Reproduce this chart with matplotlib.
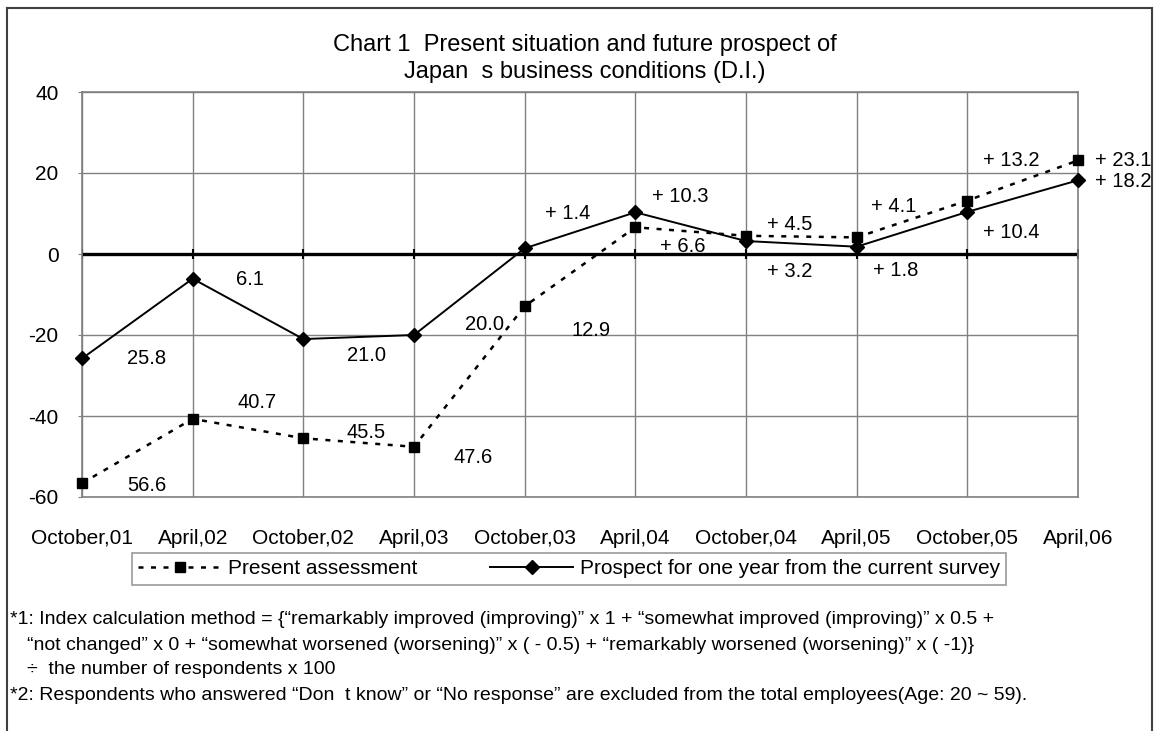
import numpy as np
import matplotlib
matplotlib.use("Agg")
import matplotlib.pyplot as plt
from matplotlib.lines import Line2D

plt.rcParams['font.family'] = ['Liberation Sans', 'DejaVu Sans']
plt.rcParams['axes.unicode_minus'] = False

periods = ["October,01", "April,02", "October,02", "April,03", "October,03",
           "April,04", "October,04", "April,05", "October,05", "April,06"]
present = [-56.6, -40.7, -45.5, -47.6, -12.9, 6.6, 4.5, 4.1, 13.2, 23.1]
prospect = [-25.8, -6.1, -21.0, -20.0, 1.4, 10.3, 3.2, 1.8, 10.4, 18.2]

# label offsets in pixels (dx, dy), placed by hand like the original
present_off = [(65, -2), (64, 16), (63, 6), (59, -11), (66, -24),
               (47, -19), (44, 11), (37, 31), (44, 40), (45, 0)]
prospect_off = [(65, 0), (57, -1), (63, -16), (71, 10), (43, 35),
                (45, 16), (44, -30), (39, -24), (44, -21), (45, -1)]


def fmt(v):
    return f"{abs(v):.1f}" if v < 0 else f"+ {v:.1f}"


W, H = 1157, 731
fig = plt.figure(figsize=(W / 100, H / 100), dpi=100)
ax = fig.add_axes([82 / W, 1 - 497 / H, (1078 - 82) / W, (497 - 92) / H])

x = np.arange(len(periods))

ax.set_xlim(0, len(periods) - 1)
ax.set_ylim(-60, 40)
ax.set_yticks(np.arange(-60, 41, 20))
ax.set_xticks(x)
ax.set_xticklabels(periods, fontsize=15)
ax.tick_params(axis='x', length=0, pad=23)
ax.tick_params(axis='y', length=3, color='#808080', labelsize=15, pad=14)
ax.grid(True, color='#808080', lw=1)
ax.set_axisbelow(True)
for s in ax.spines.values():
    s.set_color('#808080')
    s.set_linewidth(1.2)

# zero line with small tick marks at each category
ax.axhline(0, color='black', lw=2.4, zorder=2)
ax.plot(x, np.zeros(len(x)), ls='none', marker='|', ms=7, mew=1.5, color='black', zorder=2)

ax.plot(x, present, color='black', lw=1.8, ls=(0, (2, 3)), marker='s', ms=7.5,
        clip_on=False, zorder=4)
ax.plot(x, prospect, color='black', lw=1.4, ls='-', marker='D', ms=7,
        clip_on=False, zorder=5)

for xi, v, off in zip(x, present, present_off):
    ax.annotate(fmt(v), (xi, v), xytext=off, textcoords='offset pixels',
                ha='center', va='center', fontsize=14.5, zorder=6, annotation_clip=False)
for xi, v, off in zip(x, prospect, prospect_off):
    ax.annotate(fmt(v), (xi, v), xytext=off, textcoords='offset pixels',
                ha='center', va='center', fontsize=14.5, zorder=6, annotation_clip=False)

# legend
handles = [
    Line2D([], [], color='black', lw=1.8, ls=(0, (2, 3)), marker='s', ms=7.5),
    Line2D([], [], color='black', lw=1.4, ls='-', marker='D', ms=7),
]
leg = fig.legend(handles, ["Present assessment", "Prospect for one year from the current survey"],
                 loc='center', bbox_to_anchor=(569 / W, 1 - 569 / H), ncol=2,
                 fontsize=15, frameon=True, fancybox=False, edgecolor='#808080',
                 handlelength=4.0, columnspacing=3.5, borderpad=0.3, handletextpad=0.3,
                 borderaxespad=0)
leg.get_frame().set_linewidth(1.2)

# title
fig.text(585 / W, 1 - 45 / H, "Chart 1  Present situation and future prospect of",
         ha='center', va='center', fontsize=17)
fig.text(585 / W, 1 - 72 / H, "Japan  s business conditions (D.I.)",
         ha='center', va='center', fontsize=17)

# footnotes
notes = [
    (10, 620, "*1: Index calculation method = {\u201cremarkably improved (improving)\u201d x 1 + "
              "\u201csomewhat improved (improving)\u201d x 0.5 +"),
    (27, 645, "\u201cnot changed\u201d x 0 + \u201csomewhat worsened (worsening)\u201d x ( - 0.5) + "
              "\u201cremarkably worsened (worsening)\u201d x ( -1)}"),
    (27, 669, "\u00f7  the number of respondents x 100"),
    (10, 696, "*2: Respondents who answered \u201cDon  t know\u201d or \u201cNo response\u201d "
              "are excluded from the total employees(Age: 20 ~ 59)."),
]
for nx, ny, t in notes:
    fig.text(nx / W, 1 - ny / H, t, ha='left', va='center', fontsize=14)

# outer frame (open at the bottom)
frame_kw = dict(color='#404040', lw=1.5, transform=fig.transFigure)
fig.add_artist(Line2D([7 / W, 1152 / W], [1 - 8 / H, 1 - 8 / H], **frame_kw))
fig.add_artist(Line2D([7 / W, 7 / W], [1 - 8 / H, 0], **frame_kw))
fig.add_artist(Line2D([1152 / W, 1152 / W], [1 - 8 / H, 0], **frame_kw))

fig.savefig("out.png", dpi=100)
